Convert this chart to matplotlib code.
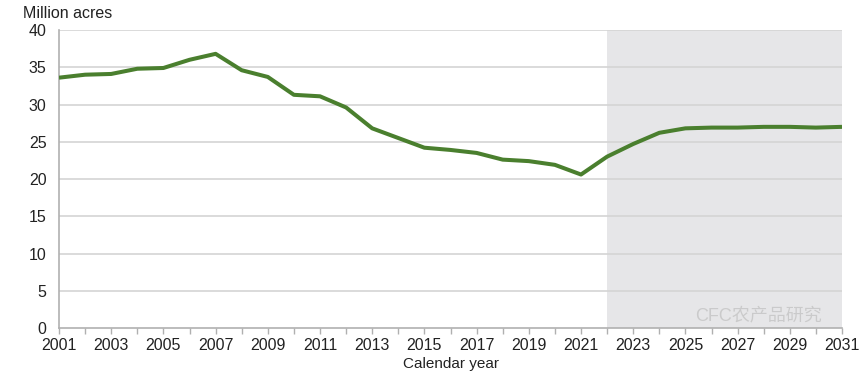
import matplotlib
matplotlib.use("Agg")
import matplotlib.pyplot as plt

years = list(range(2001, 2032))
acres = [33.6, 34.0, 34.1, 34.8, 34.9, 36.0, 36.8, 34.6, 33.7, 31.3,
         31.1, 29.6, 26.8, 25.5, 24.2, 23.9, 23.5, 22.6, 22.4, 21.9,
         20.6, 23.0, 24.7, 26.2, 26.8, 26.9, 26.9, 27.0, 27.0, 26.9, 27.0]
label_years = list(range(2001, 2032, 2))
yticks = [0, 5, 10, 15, 20, 25, 30, 35, 40]
projection_start = 2022

plt.rcParams['font.family'] = ['Liberation Sans', 'Noto Sans CJK SC', 'DejaVu Sans']

fig = plt.figure(figsize=(8.65, 3.76), dpi=100)
ax = fig.add_axes([59/865, 48/376, (842-59)/865, (328-30)/376])

ax.axvspan(projection_start, years[-1], color='#e6e6e8', zorder=0, lw=0)
for y in yticks[1:]:
    ax.axhline(y, color='#d4d4d4', lw=1.2, zorder=1)
ax.plot(years, acres, color='#4a7f2e', lw=2.9, zorder=3, solid_capstyle='butt')

ax.set_xlim(years[0], years[-1])
ax.set_ylim(0, 40)
ax.set_yticks(yticks)
ax.set_xticks(years, minor=False)
ax.set_xticklabels([str(y) if y in label_years else '' for y in years])
ax.tick_params(axis='y', length=0, labelsize=11.5, pad=9, colors='#222222')
ax.tick_params(axis='x', length=4, width=1, color='#b0b0b0', labelsize=11.5, pad=3, labelcolor='#222222', direction='out')
for s in ['top', 'right']:
    ax.spines[s].set_visible(False)
for s in ['left', 'bottom']:
    ax.spines[s].set_color('#b0b0b0')
    ax.spines[s].set_linewidth(1.2)

ax.set_xlabel('Calendar year', fontsize=11, color='#222222', labelpad=3)
fig.text(23/865, 1 - 13/376, 'Million acres', fontsize=11.5, color='#222222', va='center', ha='left')

fig.text(695/865, 1 - 316/376, 'CFC农产品研究', fontsize=13, color='#c4c4c4', alpha=0.8, va='center', ha='left')

fig.savefig('out.png', dpi=100)
